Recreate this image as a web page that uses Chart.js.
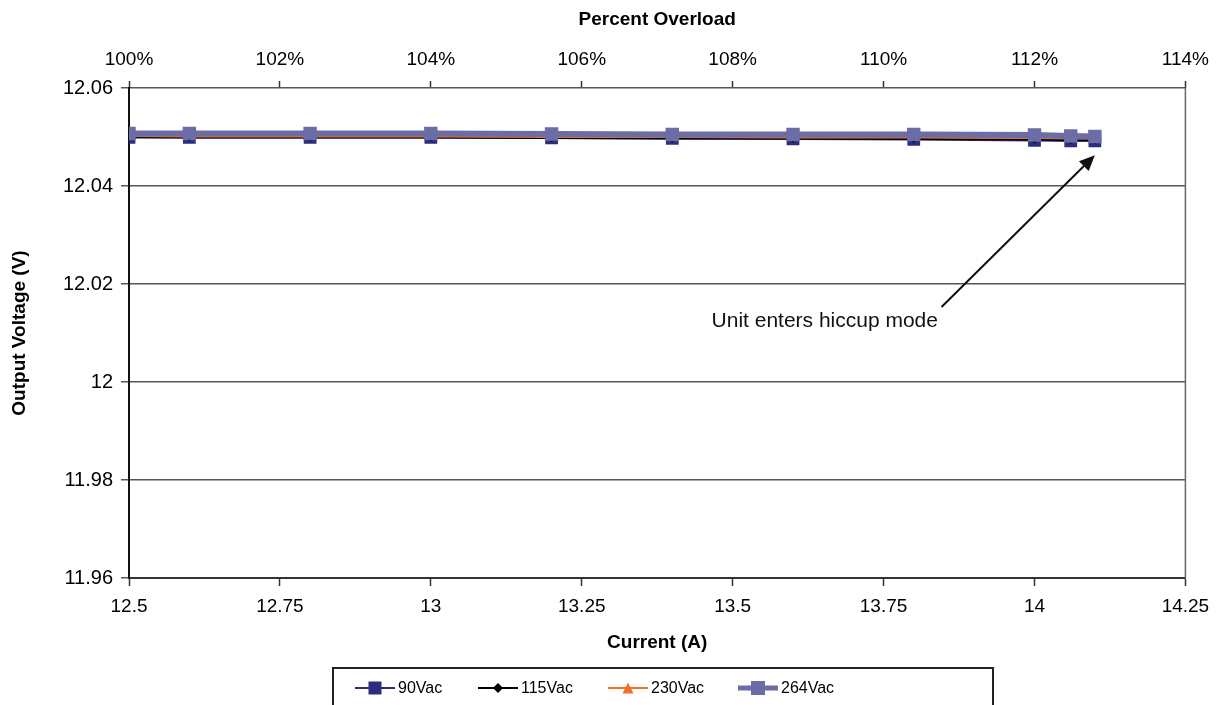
<!DOCTYPE html>
<html>
<head>
<meta charset="utf-8">
<script src="https://cdn.jsdelivr.net/npm/chart.js@4.4.1/dist/chart.umd.min.js"></script>
<style>
  html, body { margin: 0; padding: 0; background: #fff; }
  #wrap { width: 1219px; height: 705px; }
</style>
</head>
<body>
<div id="wrap"><canvas id="chart" width="1219" height="705"></canvas></div>
<script>
// Current (A) at each measurement
const current = [12.5, 12.6, 12.8, 13.0, 13.2, 13.4, 13.6, 13.8, 14.0, 14.06, 14.1];

// Output voltage (V) per input line voltage
const v90 = [12.0499, 12.0499, 12.0499, 12.0499, 12.0498, 12.0497, 12.0496, 12.0495, 12.0493, 12.0492, 12.0492];
const v115 = [12.0500, 12.0499, 12.0499, 12.0499, 12.0498, 12.0497, 12.0497, 12.0496, 12.0495, 12.0494, 12.0494];
const v230 = [12.0502, 12.0501, 12.0501, 12.0501, 12.0500, 12.0500, 12.0499, 12.0499, 12.0498, 12.0497, 12.0497];
const v264 = [12.0507, 12.0507, 12.0507, 12.0507, 12.0506, 12.0505, 12.0505, 12.0505, 12.0504, 12.0502, 12.0501];

const seriesNames = ['90Vac', '115Vac', '230Vac', '264Vac'];

// Annotation: text anchor and arrow (data units)
const noteText = 'Unit enters hiccup mode';
const noteAt = { x: 13.465, y: 12.0125 };
const arrowFrom = { x: 13.846, y: 12.0153 };
const arrowTo = { x: 14.1, y: 12.0463 };

const FONT = '"Liberation Sans", Arial, sans-serif';
const NAVY = '#2b2e7e';
const ORANGE = '#f36f21';
const SLATE = '#6a6da6';

function pts(ys) {
  return current.map((x, i) => ({ x: x, y: ys[i] }));
}

// Рисуем маркер вручную (для легенды)
function drawMarker(ctx, style, x, y, size, color) {
  ctx.save();
  ctx.fillStyle = color;
  ctx.beginPath();
  if (style === 'rect') {
    ctx.rect(x - size / 2, y - size / 2, size, size);
  } else if (style === 'rectRot') {
    ctx.moveTo(x, y - size / 2);
    ctx.lineTo(x + size / 2, y);
    ctx.lineTo(x, y + size / 2);
    ctx.lineTo(x - size / 2, y);
    ctx.closePath();
  } else if (style === 'triangle') {
    ctx.moveTo(x, y - size / 2);
    ctx.lineTo(x + size / 2, y + size / 2);
    ctx.lineTo(x - size / 2, y + size / 2);
    ctx.closePath();
  }
  ctx.fill();
  ctx.restore();
}

const extras = {
  id: 'extras',
  afterDatasetsDraw(chart) {
    const ctx = chart.ctx;
    const a = chart.chartArea;
    const xs = chart.scales.x;
    const ys = chart.scales.y;

    // right frame line
    ctx.save();
    ctx.strokeStyle = '#666';
    ctx.lineWidth = 1.5;
    ctx.beginPath();
    ctx.moveTo(a.right, a.top);
    ctx.lineTo(a.right, a.bottom);
    ctx.stroke();

    // annotation arrow
    const x1 = xs.getPixelForValue(arrowFrom.x), y1 = ys.getPixelForValue(arrowFrom.y);
    const x2 = xs.getPixelForValue(arrowTo.x), y2 = ys.getPixelForValue(arrowTo.y);
    const ang = Math.atan2(y2 - y1, x2 - x1);
    const head = 17;
    ctx.strokeStyle = '#111';
    ctx.fillStyle = '#111';
    ctx.lineWidth = 2;
    ctx.beginPath();
    ctx.moveTo(x1, y1);
    ctx.lineTo(x2 - Math.cos(ang) * head * 0.8, y2 - Math.sin(ang) * head * 0.8);
    ctx.stroke();
    ctx.beginPath();
    ctx.moveTo(x2, y2);
    ctx.lineTo(x2 - head * Math.cos(ang - 0.42), y2 - head * Math.sin(ang - 0.42));
    ctx.lineTo(x2 - head * Math.cos(ang + 0.42), y2 - head * Math.sin(ang + 0.42));
    ctx.closePath();
    ctx.fill();

    ctx.font = '21px ' + FONT;
    ctx.textBaseline = 'middle';
    ctx.textAlign = 'left';
    ctx.fillText(noteText, xs.getPixelForValue(noteAt.x), ys.getPixelForValue(noteAt.y));
    ctx.restore();
  },
  afterDraw(chart) {
    // boxed legend at the bottom
    const ctx = chart.ctx;
    const boxL = 333, boxT = 668, boxW = 660, boxH = 45;
    ctx.save();
    ctx.strokeStyle = '#222';
    ctx.lineWidth = 2;
    ctx.strokeRect(boxL, boxT, boxW, boxH);
    const cy = 688;
    const itemX = [355, 478, 608, 738];
    const looks = [
      { c: NAVY, w: 2, m: 'rect', s: 13 },
      { c: '#000', w: 2, m: 'rectRot', s: 10 },
      { c: ORANGE, w: 2, m: 'triangle', s: 11 },
      { c: SLATE, w: 5, m: 'rect', s: 14 }
    ];
    ctx.font = '16px ' + FONT;
    ctx.textBaseline = 'middle';
    seriesNames.forEach((name, i) => {
      const lx = itemX[i], lk = looks[i];
      ctx.strokeStyle = lk.c;
      ctx.lineWidth = lk.w;
      ctx.beginPath();
      ctx.moveTo(lx, cy);
      ctx.lineTo(lx + 40, cy);
      ctx.stroke();
      drawMarker(ctx, lk.m, lx + 20, cy, lk.s, lk.c);
      ctx.fillStyle = '#000';
      ctx.fillText(name, lx + 43, cy + 1);
    });
    ctx.restore();
  }
};

new Chart(document.getElementById('chart'), {
  type: 'line',
  data: {
    datasets: [
      {
        label: seriesNames[0], data: pts(v90), order: 4,
        borderColor: NAVY, backgroundColor: NAVY, borderWidth: 2,
        pointStyle: 'rect', pointRadius: 9, pointBorderWidth: 0
      },
      {
        label: seriesNames[1], data: pts(v115), order: 3,
        borderColor: '#000', backgroundColor: '#000', borderWidth: 2,
        pointStyle: 'rectRot', pointRadius: 4, pointBorderWidth: 0
      },
      {
        label: seriesNames[2], data: pts(v230), order: 2,
        borderColor: ORANGE, backgroundColor: ORANGE, borderWidth: 2,
        pointStyle: 'triangle', pointRadius: 5, pointBorderWidth: 0
      },
      {
        label: seriesNames[3], data: pts(v264), order: 1,
        borderColor: SLATE, backgroundColor: SLATE, borderWidth: 6,
        pointStyle: 'rect', pointRadius: 9.5, pointBorderWidth: 0
      }
    ]
  },
  plugins: [extras],
  options: {
    responsive: false,
    animation: false,
    layout: { padding: { left: 0, right: 33, top: 0, bottom: 47 } },
    plugins: {
      legend: { display: false },
      tooltip: { enabled: false }
    },
    scales: {
      x: {
        type: 'linear', position: 'bottom',
        min: 12.5, max: 14.25,
        afterFit: (s) => { s.height = 80; },
        ticks: {
          stepSize: 0.25, color: '#000', padding: 9,
          font: { family: FONT, size: 19 },
          callback: (v) => String(Math.round(v * 100) / 100)
        },
        grid: { drawOnChartArea: false, color: '#333', tickLength: 8, tickWidth: 1.5 },
        border: { color: '#333', width: 2 },
        title: { display: true, text: 'Current (A)', color: '#000', padding: { top: 2 },
          font: { family: FONT, size: 19, weight: 'bold' } }
      },
      x2: {
        type: 'linear', position: 'top',
        min: 100, max: 114,
        afterFit: (s) => { s.height = 88; },
        ticks: {
          stepSize: 2, color: '#000', padding: 10,
          font: { family: FONT, size: 19 },
          callback: (v) => v + '%'
        },
        grid: { drawOnChartArea: false, color: '#333', tickLength: 7, tickWidth: 1.5 },
        border: { display: false },
        title: { display: true, text: 'Percent Overload', color: '#000', padding: { top: 8, bottom: 10 },
          font: { family: FONT, size: 19, weight: 'bold' } }
      },
      y: {
        type: 'linear',
        min: 11.96, max: 12.06,
        afterFit: (s) => { s.width = 129; },
        ticks: {
          stepSize: 0.02, color: '#000', padding: 8,
          font: { family: FONT, size: 20 },
          callback: (v) => String(Math.round(v * 100) / 100)
        },
        grid: { color: '#555', lineWidth: 1.5, tickLength: 8 },
        border: { color: '#111', width: 2 },
        title: { display: true, text: 'Output Voltage (V)', color: '#000', padding: { top: 8, bottom: 4 },
          font: { family: FONT, size: 19, weight: 'bold' } }
      }
    }
  }
});
</script>
</body>
</html>
